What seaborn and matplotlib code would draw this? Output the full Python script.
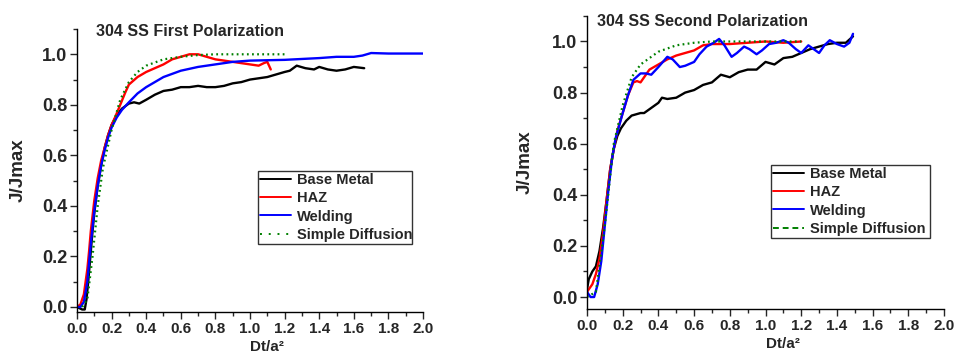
import matplotlib
matplotlib.use('Agg')
import matplotlib.pyplot as plt
from matplotlib.lines import Line2D
import numpy as np
import pandas as pd
import seaborn as sns

# first polarization
bm1_x = [0.0, 0.03, 0.045, 0.055, 0.065, 0.08, 0.09, 0.10, 0.12, 0.14, 0.16, 0.18, 0.20, 0.23, 0.26, 0.30, 0.33,
         0.36, 0.40, 0.45, 0.50, 0.55, 0.60, 0.65, 0.70, 0.75, 0.80, 0.85, 0.90, 0.95, 1.00, 1.05, 1.10, 1.15, 1.20,
         1.23, 1.27, 1.32, 1.37, 1.40, 1.45, 1.50, 1.55, 1.60, 1.66]
bm1_y = [0.0, -0.01, -0.01, 0.03, 0.10, 0.22, 0.30, 0.37, 0.48, 0.56, 0.63, 0.68, 0.72, 0.76, 0.785, 0.805, 0.81,
         0.805, 0.82, 0.84, 0.855, 0.86, 0.87, 0.87, 0.875, 0.87, 0.87, 0.875, 0.885, 0.89, 0.90, 0.905, 0.91, 0.92,
         0.93, 0.935, 0.955, 0.945, 0.94, 0.95, 0.94, 0.935, 0.94, 0.95, 0.945]
haz1_x = [0.0, 0.02, 0.04, 0.06, 0.07, 0.08, 0.09, 0.10, 0.12, 0.14, 0.16, 0.18, 0.20, 0.22, 0.25, 0.28, 0.30, 0.35,
          0.40, 0.45, 0.50, 0.55, 0.60, 0.65, 0.70, 0.75, 0.80, 0.85, 0.90, 0.95, 1.00, 1.05, 1.08, 1.10, 1.12]
haz1_y = [0.0, 0.01, 0.05, 0.15, 0.22, 0.30, 0.36, 0.42, 0.51, 0.58, 0.63, 0.68, 0.72, 0.75, 0.80, 0.85, 0.88, 0.91,
          0.93, 0.945, 0.96, 0.98, 0.99, 1.0, 1.0, 0.99, 0.98, 0.975, 0.97, 0.965, 0.96, 0.955, 0.965, 0.97, 0.94]
wel1_x = [0.0, 0.02, 0.04, 0.06, 0.08, 0.10, 0.12, 0.14, 0.16, 0.18, 0.20, 0.23, 0.26, 0.30, 0.35, 0.40, 0.45, 0.50,
          0.60, 0.70, 0.80, 0.90, 1.00, 1.20, 1.40, 1.50, 1.60, 1.65, 1.70, 1.80, 2.00]
wel1_y = [0.0, 0.0, 0.02, 0.10, 0.25, 0.38, 0.48, 0.56, 0.62, 0.67, 0.71, 0.75, 0.78, 0.81, 0.845, 0.87, 0.89, 0.91,
          0.935, 0.95, 0.96, 0.97, 0.975, 0.978, 0.985, 0.99, 0.99, 0.995, 1.005, 1.003, 1.003]
sd1_x = [0.03, 0.06, 0.09, 0.12, 0.15, 0.20, 0.25, 0.30, 0.35, 0.40, 0.50, 0.60, 0.70, 0.80, 1.00, 1.20]
sd1_y = [0.0, 0.03, 0.20, 0.40, 0.55, 0.70, 0.82, 0.89, 0.93, 0.955, 0.98, 0.99, 0.997, 1.0, 1.0, 1.0]

# second polarization
bm2_x = [0.0, 0.01, 0.03, 0.05, 0.07, 0.09, 0.11, 0.13, 0.15, 0.17, 0.19, 0.22, 0.25, 0.30, 0.32, 0.35, 0.40, 0.42,
         0.45, 0.50, 0.55, 0.60, 0.65, 0.70, 0.75, 0.80, 0.85, 0.90, 0.95, 1.00, 1.05, 1.10, 1.15, 1.20, 1.25, 1.30,
         1.35, 1.40, 1.45, 1.49]
bm2_y = [0.03, 0.07, 0.10, 0.12, 0.18, 0.27, 0.38, 0.50, 0.58, 0.63, 0.66, 0.69, 0.71, 0.72, 0.72, 0.735, 0.76, 0.78,
         0.775, 0.78, 0.80, 0.81, 0.83, 0.84, 0.87, 0.86, 0.88, 0.89, 0.89, 0.92, 0.91, 0.935, 0.94, 0.955, 0.97,
         0.98, 0.99, 0.995, 0.995, 1.02]
haz2_x = [0.0, 0.03, 0.05, 0.07, 0.09, 0.11, 0.13, 0.15, 0.17, 0.20, 0.23, 0.26, 0.28, 0.30, 0.33, 0.35, 0.40, 0.45,
          0.50, 0.55, 0.60, 0.65, 0.70, 0.80, 0.90, 1.00, 1.10, 1.20]
haz2_y = [0.02, 0.05, 0.09, 0.15, 0.25, 0.38, 0.50, 0.58, 0.65, 0.72, 0.79, 0.84, 0.845, 0.84, 0.87, 0.89, 0.91,
          0.93, 0.945, 0.955, 0.965, 0.985, 0.99, 0.99, 0.995, 1.0, 0.995, 1.0]
wel2_x = [0.0, 0.02, 0.04, 0.06, 0.08, 0.10, 0.12, 0.14, 0.16, 0.18, 0.20, 0.23, 0.26, 0.30, 0.33, 0.36, 0.40, 0.45,
          0.48, 0.52, 0.55, 0.60, 0.63, 0.67, 0.71, 0.74, 0.77, 0.81, 0.84, 0.88, 0.91, 0.95, 0.98, 1.02, 1.06, 1.10,
          1.13, 1.17, 1.20, 1.24, 1.27, 1.30, 1.33, 1.36, 1.40, 1.44, 1.47, 1.49]
wel2_y = [0.02, 0.0, 0.0, 0.05, 0.14, 0.28, 0.42, 0.54, 0.62, 0.67, 0.72, 0.79, 0.85, 0.875, 0.875, 0.87, 0.90, 0.94,
          0.93, 0.90, 0.905, 0.92, 0.95, 0.98, 0.995, 1.01, 0.985, 0.94, 0.955, 0.98, 0.97, 0.95, 0.965, 0.99, 0.995,
          1.005, 0.995, 0.97, 0.955, 0.985, 0.97, 0.955, 0.985, 1.005, 0.99, 0.98, 0.995, 1.03]
sd2_x = [0.0, 0.05, 0.10, 0.15, 0.20, 0.25, 0.30, 0.40, 0.50, 0.60, 0.70, 0.80, 1.00, 1.20]
sd2_y = [0.0, 0.02, 0.28, 0.60, 0.75, 0.86, 0.91, 0.96, 0.985, 0.995, 1.0, 1.0, 1.0, 1.0]

labels = ['Base Metal', 'HAZ', 'Welding', 'Simple Diffusion']

sns.set_style('ticks')
plt.rcParams['font.family'] = ['Liberation Sans', 'DejaVu Sans']
plt.rcParams['font.weight'] = 'bold'

fig = plt.figure(figsize=(9.56, 3.54), dpi=100)
ax1 = fig.add_axes([0.0805, 0.1186, 0.362, 0.7994])
ax2 = fig.add_axes([0.614, 0.127, 0.3735, 0.828])

dot = (0, (0.8, 1.5))


def draw(ax, series, ylim, title, title_pos, ylab_x, xlab_y, leg_box, sd_legend_style):
    colors = ['black', 'red', 'blue']
    for (x, y), c in zip(series[:3], colors):
        sns.lineplot(x=x, y=y, ax=ax, color=c, lw=1.7, estimator=None, sort=False)
    x, y = series[3]
    ax.plot(x, y, color='green', lw=1.6, linestyle=dot)
    ax.set_xlim(0, 2.0)
    ax.set_ylim(*ylim)
    ax.set_xticks(np.arange(0, 2.01, 0.2))
    ax.set_xticks(np.arange(0, 2.01, 0.1), minor=True)
    ax.set_yticks(np.arange(0, 1.01, 0.2))
    ax.set_yticks(np.arange(0, 1.11, 0.1), minor=True)
    ax.xaxis.set_major_formatter(plt.FormatStrFormatter('%.1f'))
    ax.yaxis.set_major_formatter(plt.FormatStrFormatter('%.1f'))
    ax.tick_params(which='major', length=5, width=1, pad=2)
    ax.tick_params(axis='x', labelsize=11)
    ax.tick_params(axis='y', labelsize=13)
    ax.tick_params(which='minor', length=3, width=1)
    for s in ['top', 'right']:
        ax.spines[s].set_visible(False)
    for s in ['left', 'bottom']:
        ax.spines[s].set_color('black')
        ax.spines[s].set_linewidth(1)
    ax.text(title_pos[0], title_pos[1], title, transform=ax.transAxes, fontsize=11.5, fontweight='bold', va='top')
    ax.set_ylabel('J/Jmax', fontsize=13.5, fontweight='bold')
    ax.yaxis.set_label_coords(ylab_x, 0.5)
    ax.set_xlabel('Dt/a²', fontsize=11, fontweight='bold')
    ax.xaxis.set_label_coords(0.55, xlab_y)
    handles = [Line2D([], [], color='black', lw=1.4), Line2D([], [], color='red', lw=1.4),
               Line2D([], [], color='blue', lw=1.4),
               Line2D([], [], color='green', lw=1.4, linestyle=sd_legend_style)]
    leg = ax.legend(handles, labels, loc='lower left', bbox_to_anchor=leg_box, mode='expand',
                    fontsize=10.5, frameon=True, fancybox=False, handlelength=2.1, handletextpad=0.45,
                    borderpad=0.15, labelspacing=0.3, borderaxespad=0)
    leg.get_frame().set_edgecolor('black')
    leg.get_frame().set_linewidth(1)
    for t in leg.get_texts():
        t.set_fontweight('bold')


draw(ax1, [(bm1_x, bm1_y), (haz1_x, haz1_y), (wel1_x, wel1_y), (sd1_x, sd1_y)], (-0.02, 1.1),
     '304 SS First Polarization', (0.055, 1.018), -0.144, -0.1, (0.523, 0.24, 0.445, 0.258), (0, (1, 3.5)))
draw(ax2, [(bm2_x, bm2_y), (haz2_x, haz2_y), (wel2_x, wel2_y), (sd2_x, sd2_y)], (-0.047, 1.1),
     '304 SS Second Polarization', (0.028, 1.007), -0.148, -0.095, (0.515, 0.242, 0.445, 0.258), (0, (3, 2)))

fig.savefig('out.png', dpi=100)
